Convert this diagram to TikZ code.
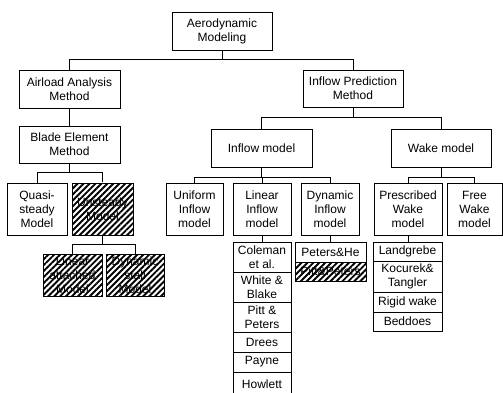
\documentclass[tikz,border=0pt]{standalone}
\usepackage{fontspec}
\setmainfont{Liberation Sans}
\usetikzlibrary{patterns.meta}
\begin{document}
\begin{tikzpicture}[x=1pt,y=-1pt,
  box/.style={draw, line width=0.8pt, align=center, inner sep=0pt, fill=white,
    font=\fontsize{12}{14}\selectfont},
  hatch/.style={pattern={Lines[angle=45,distance=4.2pt,line width=1.9pt]}},
  wire/.style={line width=0.8pt}]
\useasboundingbox (0,0) rectangle (503,392);
\clip (0,0) rectangle (503,392);
% level 0-2
\node[box, minimum width=100pt, minimum height=38pt] (top) at (222,31) {Aerodynamic\\Modeling};
\node[box, minimum width=101pt, minimum height=38pt] (air) at (69.5,89) {Airload Analysis\\Method};
\node[box, minimum width=100pt, minimum height=37pt] (ipm) at (353,88.5) {Inflow Prediction\\Method};
\node[box, minimum width=101pt, minimum height=37pt] (bem) at (69.5,144.5) {Blade Element\\Method};
\node[box, minimum width=101pt, minimum height=38pt] (im) at (261.5,148) {Inflow model};
\node[box, minimum width=100pt, minimum height=38pt] (wm) at (441,148) {Wake model};
% level 3
\node[box, minimum width=60pt, minimum height=52pt] (qs) at (37,209) {Quasi-\\steady\\Model};
\node[box, hatch, minimum width=61pt, minimum height=52pt] (us) at (102.5,209) {Unsteady\\Model};
\node[box, minimum width=57pt, minimum height=52pt] (uni) at (194.5,209) {Uniform\\Inflow\\model};
\node[box, minimum width=58pt, minimum height=52pt] (lin) at (262,209) {Linear\\Inflow\\model};
\node[box, minimum width=58pt, minimum height=52pt] (dyn) at (330,209) {Dynamic\\Inflow\\model};
\node[box, minimum width=68pt, minimum height=52pt] (pre) at (408,209) {Prescribed\\Wake\\model};
\node[box, minimum width=55pt, minimum height=52pt] (free) at (474.5,209) {Free\\Wake\\model};
% level 4
\node[box, hatch, minimum width=59pt, minimum height=42pt] (la) at (72.5,275) {Linear\\attached\\Model};
\node[box, hatch, minimum width=58pt, minimum height=42pt] (ds) at (135,275) {Dynamic\\stall\\Model};
% linear list
\node[box, minimum width=58pt, minimum height=30pt] (l1) at (262,257) {Coleman\\et al.};
\node[box, minimum width=58pt, minimum height=30pt] (l2) at (262,287) {White \&\\Blake};
\node[box, minimum width=58pt, minimum height=30pt] (l3) at (262,317) {Pitt \&\\Peters};
\node[box, minimum width=58pt, minimum height=20pt] (l4) at (262,342) {Drees};
\node[box, minimum width=58pt, minimum height=20pt] (l5) at (262,362) {Payne};
\node[box, minimum width=58pt, minimum height=24pt] (l6) at (262,384) {Howlett};
% dynamic list
\node[box, minimum width=71pt, minimum height=20pt] (d1) at (330.5,252) {Peters\&He};
\node[box, hatch, minimum width=71pt, minimum height=19pt] (d2) at (330.5,271.5) {Pitt\&Peters};
% prescribed list
\node[box, minimum width=69pt, minimum height=19pt] (p1) at (407.5,251.5) {Landgrebe};
\node[box, minimum width=69pt, minimum height=31pt] (p2) at (407.5,276.5) {Kocurek\&\\Tangler};
\node[box, minimum width=69pt, minimum height=20pt] (p3) at (407.5,302) {Rigid wake};
\node[box, minimum width=69pt, minimum height=19pt] (p4) at (407.5,321.5) {Beddoes};
% connectors
\coordinate (j1) at (222,59);
\draw[wire] (top.south) -- (j1);
\draw[wire] (j1) -| (air.north);
\draw[wire] (j1) -| (ipm.north);
\draw[wire] (air.south) -- (bem.north);
\coordinate (j2) at (69.5,172);
\draw[wire] (bem.south) -- (j2);
\draw[wire] (j2) -| (qs.north);
\draw[wire] (j2) -| (us.north);
\coordinate (j3) at (353,117);
\draw[wire] (ipm.south) -- (j3);
\draw[wire] (j3) -| (im.north);
\draw[wire] (j3) -| (wm.north);
\coordinate (j4) at (261.5,177);
\draw[wire] (im.south) -- (j4);
\draw[wire] (j4) -| (uni.north);
\draw[wire] (j4) -| (lin.north);
\draw[wire] (j4) -| (dyn.north);
\coordinate (j5) at (441,177);
\draw[wire] (wm.south) -- (j5);
\draw[wire] (j5) -| (pre.north);
\draw[wire] (j5) -| (free.north);
\coordinate (j6) at (102.5,244);
\draw[wire] (us.south) -- (j6);
\draw[wire] (j6) -| (la.north);
\draw[wire] (j6) -| (ds.north);
\draw[wire] (lin.south) -- (l1.north);
\draw[wire] (dyn.south) -- (dyn.south |- d1.north);
\draw[wire] (pre.south) -- (pre.south |- p1.north);
\end{tikzpicture}
\end{document}
